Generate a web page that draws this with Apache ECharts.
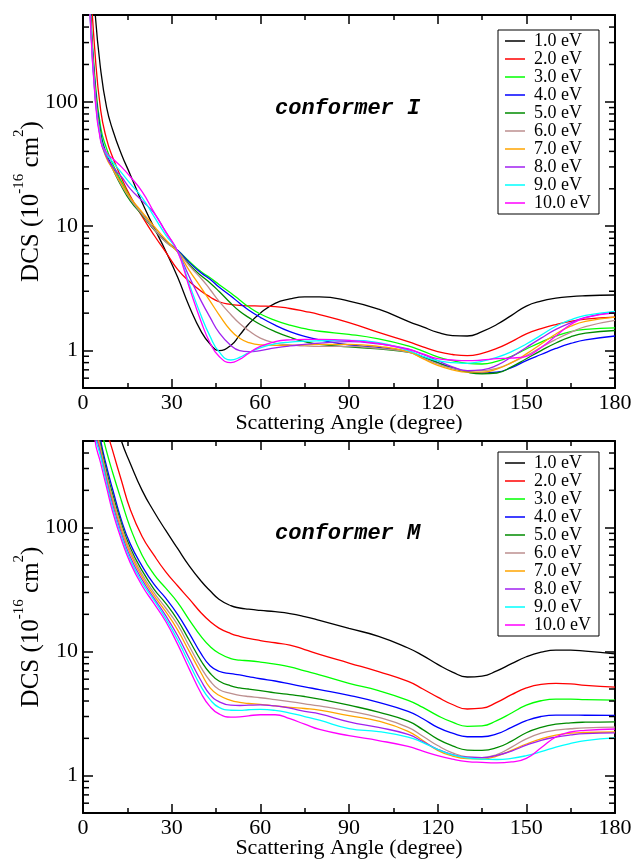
<!DOCTYPE html>
<html><head><meta charset="utf-8">
<script src="https://cdn.jsdelivr.net/npm/echarts@6/dist/echarts.min.js"></script>
<style>html,body{margin:0;padding:0;background:#fff}#c{width:634px;height:859px}</style>
</head><body><div id="c"></div>
<script>
// Scattering angle (degree) sample points shared by all curves
const angles = [0,2,4,6,8,10,13,16,20,24,28,32,36,40,43,46,50,53,56,60,65,70,75,80,90,100,110,115,120,125,130,135,140,145,150,155,160,165,170,180];
const energies = ['1.0 eV','2.0 eV','3.0 eV','4.0 eV','5.0 eV','6.0 eV','7.0 eV','8.0 eV','9.0 eV','10.0 eV'];
const colors = ['#000000','#ff0000','#00ff00','#0000ff','#008b00','#bc8f8f','#ffa500','#a020f0','#00ffff','#ff00ff'];

// conformer I  (DCS, 10^-16 cm^2)
const confI_1 = [20000,4000,560,180,90,60,38,26,15.5,9.8,6.3,3.9,2.25,1.42,1.13,1.0,1.1,1.33,1.63,2.0,2.4,2.6,2.7,2.7,2.5,2.15,1.72,1.55,1.40,1.32,1.31,1.42,1.62,1.92,2.28,2.5,2.64,2.72,2.76,2.8];
const confI_2 = [10000,1500,260,85,50,36,24.5,17.5,12,8.5,6.2,4.5,3.6,3.0,2.7,2.47,2.35,2.31,2.29,2.28,2.26,2.18,2.07,1.95,1.68,1.40,1.18,1.07,0.98,0.93,0.91,0.95,1.04,1.18,1.36,1.50,1.62,1.72,1.79,1.86];
const confI_3 = [8000,1000,160,62,42,32,23,17,12.5,9.5,7.6,6.4,5.2,4.3,3.85,3.4,2.9,2.55,2.25,1.97,1.75,1.6,1.5,1.43,1.35,1.24,1.09,0.99,0.89,0.83,0.79,0.78,0.82,0.9,1.03,1.17,1.31,1.42,1.48,1.52];
const confI_4 = [7000,900,145,56,38,30,22,16.5,12.5,9.5,7.6,6.4,5.1,4.2,3.75,3.25,2.75,2.4,2.12,1.85,1.6,1.42,1.3,1.22,1.11,1.06,0.98,0.89,0.80,0.73,0.68,0.66,0.67,0.73,0.83,0.93,1.04,1.14,1.22,1.31];
const confI_5 = [6500,850,135,53,37,29,21,16,12.3,9.4,7.5,6.3,4.9,4.0,3.5,3.0,2.4,2.07,1.85,1.62,1.42,1.28,1.18,1.12,1.07,1.03,0.97,0.89,0.80,0.72,0.67,0.65,0.66,0.74,0.86,1.0,1.15,1.29,1.38,1.45];
const confI_6 = [6000,820,130,51,36,29,21.5,16.5,12.5,9.5,7.5,6.3,4.8,3.8,3.1,2.5,1.95,1.65,1.45,1.26,1.15,1.11,1.09,1.08,1.08,1.04,0.97,0.87,0.78,0.72,0.69,0.69,0.72,0.8,0.91,1.06,1.23,1.40,1.56,1.75];
const confI_7 = [5800,800,125,50,35,29,22,17,13,10,7.8,6.2,4.4,3.2,2.5,1.95,1.45,1.26,1.16,1.11,1.10,1.10,1.11,1.12,1.12,1.08,0.98,0.86,0.76,0.70,0.67,0.67,0.71,0.8,0.94,1.13,1.36,1.57,1.72,1.86];
const confI_8 = [5600,780,120,49,36,30,25,20,16,12.8,9,6.3,3.9,2.5,1.85,1.4,1.1,1.0,0.98,1.0,1.05,1.09,1.12,1.15,1.18,1.13,1.03,0.93,0.83,0.74,0.69,0.7,0.76,0.89,1.06,1.26,1.48,1.67,1.85,2.05];
const confI_9 = [5400,760,118,50,38,33,27,22,17,12,8.5,6.3,3.4,1.9,1.3,0.98,0.84,0.88,0.96,1.05,1.13,1.17,1.19,1.2,1.21,1.16,1.0,0.9,0.83,0.8,0.79,0.82,0.88,0.98,1.13,1.33,1.57,1.77,1.92,2.07];
const confI_10 = [5200,740,115,48,39,35,30,25,19,13,9,6.3,3.2,1.7,1.15,0.9,0.80,0.85,0.95,1.08,1.18,1.22,1.23,1.23,1.21,1.14,1.02,0.94,0.86,0.84,0.83,0.84,0.86,0.87,0.9,1.06,1.31,1.62,1.84,2.01];

// conformer M  (DCS, 10^-16 cm^2)
const confM_1 = [100000,40000,5000,2600,1500,900,500,330,200,135,95,68,49,37,31,26.5,23.5,22.5,22,21.5,21,20.3,19.2,17.9,15.4,13.3,10.7,9.3,7.9,6.85,6.25,6.35,7.0,8.0,9.1,9.9,10.3,10.3,10.1,9.6];
const confM_2 = [50000,8000,2500,1100,620,420,240,140,85,60,44,34,26.5,20.5,17.5,15.5,14.0,13.3,12.8,12.3,11.8,11.3,10.4,9.5,8.1,6.9,5.75,5.0,4.3,3.75,3.45,3.5,3.9,4.5,5.1,5.45,5.55,5.5,5.35,5.18];
const confM_3 = [30000,5000,1000,640,410,280,165,100,60,42,32.5,25,18,13.2,11.0,9.7,8.8,8.55,8.45,8.25,7.95,7.55,7.0,6.5,5.55,4.85,4.05,3.55,3.05,2.7,2.5,2.52,2.78,3.2,3.7,4.02,4.15,4.15,4.1,4.06];
const confM_4 = [25000,4000,950,500,310,205,115,74,49,35,27,20,14,9.6,7.7,6.95,6.65,6.5,6.3,6.05,5.8,5.5,5.2,4.95,4.45,3.9,3.3,2.88,2.45,2.2,2.06,2.06,2.17,2.45,2.78,3.0,3.08,3.08,3.07,3.06];
const confM_5 = [22000,3600,820,460,285,188,108,69,45,32,24.5,18,12.3,8.4,6.7,5.8,5.3,5.1,5.0,4.85,4.65,4.5,4.35,4.15,3.7,3.25,2.75,2.35,1.97,1.74,1.61,1.6,1.68,1.9,2.22,2.45,2.6,2.67,2.7,2.72];
const confM_6 = [20000,3300,760,430,265,175,102,65,42,30,22.5,16.5,11,7.4,5.8,4.95,4.6,4.45,4.35,4.25,4.1,3.95,3.8,3.65,3.32,2.95,2.45,2.08,1.75,1.53,1.42,1.4,1.48,1.7,1.98,2.2,2.33,2.39,2.43,2.46];
const confM_7 = [19000,3100,700,410,250,165,96,62,40,28.5,21,15,10,6.7,5.1,4.45,4.05,3.9,3.82,3.76,3.65,3.55,3.48,3.38,3.05,2.75,2.28,1.92,1.6,1.44,1.37,1.36,1.44,1.6,1.8,1.98,2.12,2.2,2.23,2.25];
const confM_8 = [18000,2900,640,390,240,155,90,58,38,27,19.5,13.5,8.8,5.8,4.5,3.95,3.7,3.68,3.7,3.72,3.65,3.5,3.3,3.15,2.72,2.45,2.15,1.88,1.63,1.48,1.41,1.4,1.46,1.58,1.76,1.93,2.05,2.13,2.18,2.21];
const confM_9 = [17000,2800,580,370,228,145,85,55,36,26,18.5,12.5,8.0,5.2,4.1,3.55,3.37,3.36,3.4,3.42,3.36,3.2,3.0,2.8,2.4,2.27,2.05,1.85,1.63,1.47,1.39,1.36,1.35,1.38,1.45,1.56,1.7,1.82,1.92,2.02];
const confM_10 = [16000,2600,520,330,210,135,80,52,34,24.5,17.5,11.5,7.2,4.6,3.6,3.15,2.97,2.98,3.04,3.1,3.1,2.88,2.6,2.36,2.1,1.92,1.72,1.58,1.45,1.36,1.3,1.28,1.27,1.29,1.38,1.68,2.05,2.25,2.32,2.38];

const confI = [confI_1,confI_2,confI_3,confI_4,confI_5,confI_6,confI_7,confI_8,confI_9,confI_10];
const confM = [confM_1,confM_2,confM_3,confM_4,confM_5,confM_6,confM_7,confM_8,confM_9,confM_10];

const xTickValues = [0,30,60,90,120,150,180];
const yMajorTicks = [1,10,100];
const yMinorTicks = [0.6,0.7,0.8,0.9,2,3,4,5,6,7,8,9,20,30,40,50,60,70,80,90,200,300,400];

const SERIF = "'Liberation Serif','Times New Roman',serif";
const MONO = "'Liberation Mono','Courier New',monospace";
const chart = echarts.init(document.getElementById('c'));

const grids = [
  {left: 83, top: 15, width: 532, height: 373, containLabel: false, outerBoundsMode: 'none'},
  {left: 83, top: 441, width: 532, height: 372, containLabel: false, outerBoundsMode: 'none'}
];

function xAxis(gi, pos) {
  const bottom = pos === 'bottom';
  return {
    gridIndex: gi, type: 'value', min: 0, max: 180, interval: 30, position: pos,
    axisLine: {show: true, onZero: false, lineStyle: {color: '#000', width: 2}},
    axisTick: {show: true, inside: true, length: 9, lineStyle: {color: '#000', width: 1.5}},
    minorTick: {show: true, splitNumber: 2, length: 5, lineStyle: {color: '#000', width: 1.5}},
    splitLine: {show: false}, minorSplitLine: {show: false},
    axisLabel: {show: bottom, margin: 4, fontFamily: SERIF, fontSize: 22, color: '#000',
      formatter: v => xTickValues.includes(v) ? String(v) : ''},
    name: bottom ? 'Scattering Angle (degree)' : '',
    nameLocation: 'middle', nameGap: 24, nameMoveOverlap: false,
    nameTextStyle: {fontFamily: SERIF, fontSize: 22, color: '#000'}
  };
}
function yAxis(gi, pos) {
  const left = pos === 'left';
  return {
    gridIndex: gi, type: 'log', logBase: 10, min: 0.5, max: 500, position: pos,
    axisLine: {show: true, onZero: false, lineStyle: {color: '#000', width: 2}},
    axisTick: {show: true, inside: true, length: 10, lineStyle: {color: '#000', width: 1.5}},
    minorTick: {show: false}, splitLine: {show: false}, minorSplitLine: {show: false},
    axisLabel: {show: left, margin: 5, fontFamily: SERIF, fontSize: 22, color: '#000',
      showMinLabel: false, showMaxLabel: false,
      formatter: v => {
        const m = yMajorTicks.find(t => Math.abs(t - v) / t < 1e-6);
        return m !== undefined ? String(m) : '';
      }},
    name: left ? '{a|DCS (10}{b|-16}{a| cm}{b|2}{a|)}' : '',
    nameLocation: 'middle', nameGap: 33, nameRotate: 90, nameMoveOverlap: false,
    nameTextStyle: {rich: {
      a: {fontFamily: SERIF, fontSize: 25, lineHeight: 38, color: '#000'},
      b: {fontFamily: SERIF, fontSize: 15, lineHeight: 15, verticalAlign: 'top', color: '#000'}
    }}
  };
}

function minorTicks(xi, yi) {
  return {
    type: 'custom', xAxisIndex: xi, yAxisIndex: yi, silent: true, clip: false, z: 5,
    data: yMinorTicks.map(v => [0, v]),
    encode: {x: 0, y: 1},
    renderItem: (params, api) => {
      const v = api.value(1);
      const l = api.coord([0, v]);
      const r = api.coord([180, v]);
      const st = {stroke: '#000', lineWidth: 1.5};
      return {type: 'group', children: [
        {type: 'line', shape: {x1: l[0], y1: l[1], x2: l[0] + 6, y2: l[1]}, style: st},
        {type: 'line', shape: {x1: r[0], y1: r[1], x2: r[0] - 6, y2: r[1]}, style: st}
      ]};
    }
  };
}

function lines(sets, xi, yi) {
  return energies.map((name, k) => ({
    name, type: 'line', xAxisIndex: xi, yAxisIndex: yi,
    data: angles.map((a, j) => [a, sets[k][j]]),
    symbol: 'none', showSymbol: false, smooth: 0.5, clip: true,
    lineStyle: {color: colors[k], width: 1.3},
    itemStyle: {color: colors[k]}
  }));
}

function legend(top) {
  return {
    orient: 'vertical', left: 498, top, data: energies,
    icon: 'rect', itemWidth: 20, itemHeight: 1.5, itemGap: 0, padding: [2, 8, 2, 7],
    borderColor: '#000', borderWidth: 1, borderRadius: 0, backgroundColor: '#fff',
    selectedMode: false,
    textStyle: {fontFamily: SERIF, fontSize: 18, lineHeight: 18, color: '#000', padding: [0, 0, 0, 4]}
  };
}

chart.setOption({
  animation: false,
  backgroundColor: '#fff',
  grid: grids,
  xAxis: [xAxis(0, 'bottom'), xAxis(0, 'top'), xAxis(1, 'bottom'), xAxis(1, 'top')],
  yAxis: [yAxis(0, 'left'), yAxis(0, 'right'), yAxis(1, 'left'), yAxis(1, 'right')],
  legend: [legend(30), legend(452)],
  title: [
    {text: 'conformer I', left: 275, top: 97, padding: 0,
     textStyle: {fontFamily: MONO, fontStyle: 'italic', fontWeight: 'bold', fontSize: 22, color: '#000'}},
    {text: 'conformer M', left: 275, top: 522, padding: 0,
     textStyle: {fontFamily: MONO, fontStyle: 'italic', fontWeight: 'bold', fontSize: 22, color: '#000'}}
  ],
  series: [
    ...lines(confI, 0, 0),
    ...lines(confM, 2, 2),
    minorTicks(0, 0),
    minorTicks(2, 2)
  ]
});
</script>
</body></html>
